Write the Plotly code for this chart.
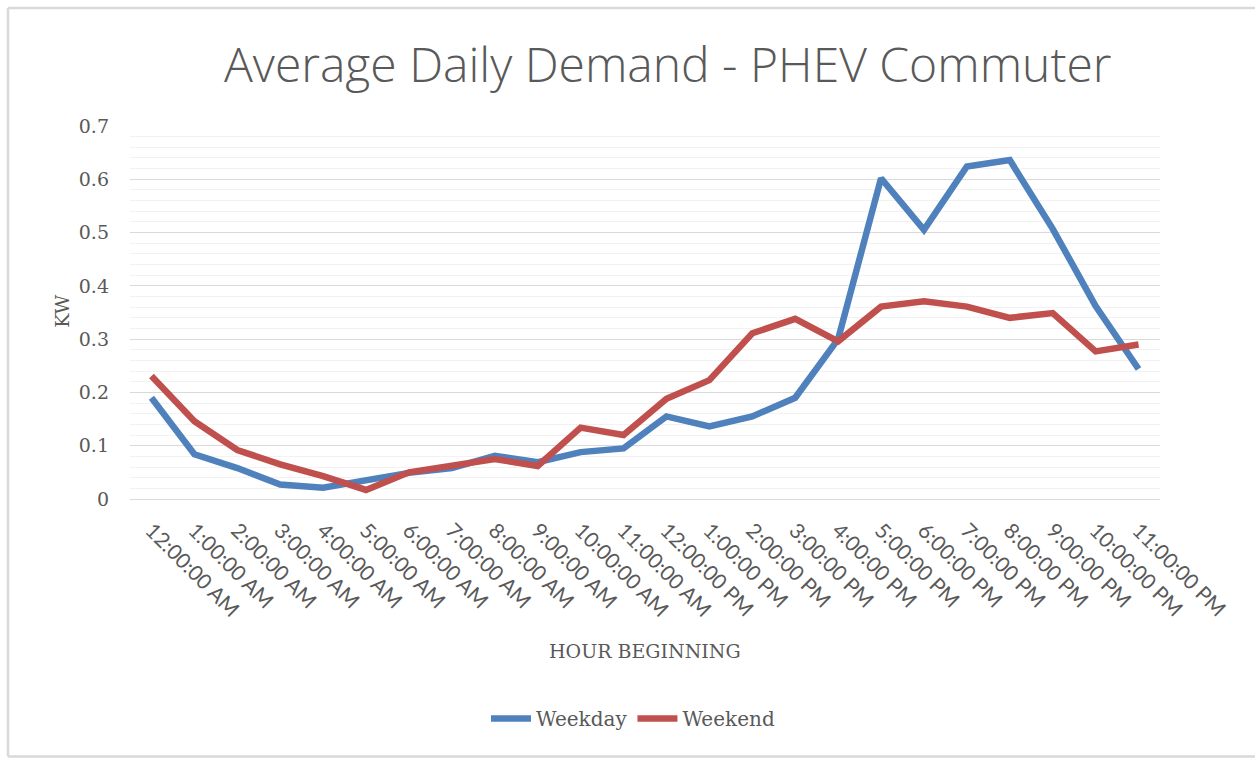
import plotly.graph_objects as go

hours = ["12:00:00 AM", "1:00:00 AM", "2:00:00 AM", "3:00:00 AM", "4:00:00 AM", "5:00:00 AM",
         "6:00:00 AM", "7:00:00 AM", "8:00:00 AM", "9:00:00 AM", "10:00:00 AM", "11:00:00 AM",
         "12:00:00 PM", "1:00:00 PM", "2:00:00 PM", "3:00:00 PM", "4:00:00 PM", "5:00:00 PM",
         "6:00:00 PM", "7:00:00 PM", "8:00:00 PM", "9:00:00 PM", "10:00:00 PM", "11:00:00 PM"]

weekday = [0.190, 0.084, 0.058, 0.027, 0.021, 0.036, 0.049, 0.058, 0.081, 0.069, 0.088, 0.095,
           0.155, 0.136, 0.155, 0.190, 0.300, 0.602, 0.505, 0.624, 0.636, 0.507, 0.362, 0.244]

weekend = [0.231, 0.146, 0.092, 0.065, 0.043, 0.017, 0.050, 0.062, 0.075, 0.062, 0.134, 0.120,
           0.188, 0.223, 0.311, 0.338, 0.296, 0.361, 0.371, 0.361, 0.340, 0.349, 0.277, 0.290]

y_ticks = [0, 0.1, 0.2, 0.3, 0.4, 0.5, 0.6, 0.7]
y_labels = ["0", "0.1", "0.2", "0.3", "0.4", "0.5", "0.6", "0.7"]

W, H = 1255, 761
L, R, T, B = 130, 1160, 126, 499.3

def px_x(px):
    return (px - L) / (R - L)

def px_y(py):
    return (B - py) / (B - T)

serif = "DejaVu Serif"
gray = "#595959"
border = "#D9D9D9"

fig = go.Figure()
fig.add_trace(go.Scatter(x=list(range(len(hours))), y=weekday, mode="lines", name="Weekday",
                         line=dict(color="#4F81BD", width=6.5, shape="linear"),
                         hoverinfo="skip"))
fig.add_trace(go.Scatter(x=list(range(len(hours))), y=weekend, mode="lines", name="Weekend",
                         line=dict(color="#C0504D", width=6.5, shape="linear"),
                         hoverinfo="skip"))

border_line = dict(color=border, width=2.5)

fig.update_layout(
    width=W, height=H,
    margin=dict(l=L, r=W - R, t=T, b=H - B, autoexpand=False),
    paper_bgcolor="white", plot_bgcolor="white",
    showlegend=True,
    legend=dict(orientation="h", x=px_x(633), y=px_y(719), xanchor="center", yanchor="middle",
                font=dict(family=serif, size=20, color=gray), itemwidth=40,
                tracegroupgap=0, bgcolor="rgba(0,0,0,0)"),
    xaxis=dict(range=[-0.5, 23.5], tickmode="array", tickvals=list(range(len(hours))),
               ticktext=hours, tickangle=45, showgrid=False, zeroline=False,
               showline=True, linecolor="#D9D9D9", linewidth=1, ticks="",
               ticklabelstandoff=10,
               tickfont=dict(family="Lato", size=21, color=gray)),
    yaxis=dict(range=[0, 0.7], tickmode="array", tickvals=y_ticks, ticktext=y_labels,
               showgrid=True, gridcolor="#D9D9D9", gridwidth=1, zeroline=False,
               showline=False, ticks="", ticklabelstandoff=20,
               tickfont=dict(family=serif, size=19, color=gray),
               minor=dict(dtick=0.02, tick0=0, showgrid=True, gridcolor="#F2F2F2", gridwidth=1)),
    annotations=[
        dict(text="Average Daily Demand - PHEV Commuter", xref="paper", yref="paper",
             x=px_x(667), y=px_y(63), xanchor="center", yanchor="middle", showarrow=False,
             font=dict(family="Open Sans", size=48, color=gray, weight=300)),
        dict(text="KW", xref="paper", yref="paper", x=px_x(62), y=px_y(311),
             xanchor="center", yanchor="middle", textangle=-90, showarrow=False,
             font=dict(family=serif, size=19, color=gray)),
        dict(text="HOUR BEGINNING", xref="paper", yref="paper", x=px_x(645), y=px_y(651),
             xanchor="center", yanchor="middle", showarrow=False,
             font=dict(family=serif, size=19, color=gray)),
    ],
    shapes=[
        dict(type="line", xref="paper", yref="paper", x0=px_x(8), x1=px_x(8),
             y0=px_y(757), y1=px_y(8), line=border_line, layer="below"),
        dict(type="line", xref="paper", yref="paper", x0=px_x(8), x1=px_x(1255),
             y0=px_y(8), y1=px_y(8), line=border_line, layer="below"),
        dict(type="line", xref="paper", yref="paper", x0=px_x(8), x1=px_x(1255),
             y0=px_y(757), y1=px_y(757), line=border_line, layer="below"),
    ],
)

fig.write_html("out.html", config={"displayModeBar": False},
               post_script="document.body.style.margin='0';document.body.style.overflow='hidden';")
